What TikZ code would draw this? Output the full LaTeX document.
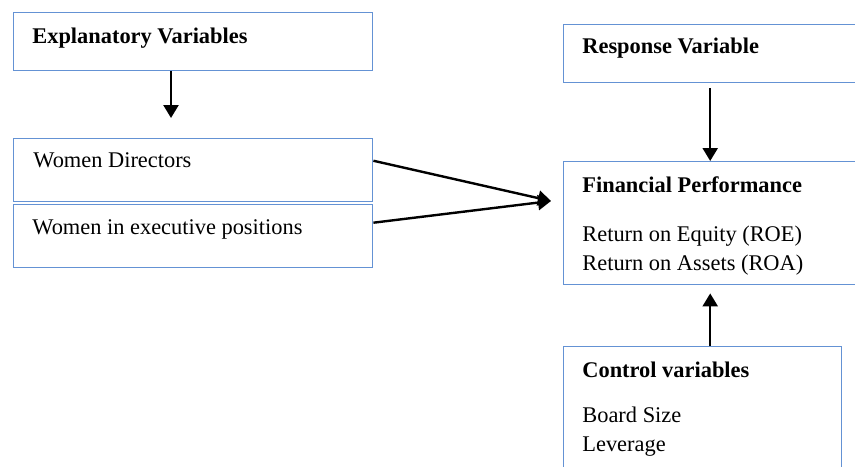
\documentclass[tikz,border=0pt]{standalone}
\usepackage{fontspec}
\setmainfont{Liberation Serif}
\usetikzlibrary{arrows.meta}
\definecolor{boxblue}{RGB}{100,146,212}
\begin{document}
\begin{tikzpicture}[x=0.5pt,y=-0.5pt,
 box/.style={draw=boxblue,line width=0.7pt,anchor=north west,inner sep=0pt},
 txt/.style={anchor=base west,inner sep=0pt,font=\fontsize{11.2pt}{13pt}\selectfont},
 hd/.style={txt,font=\fontsize{11.2pt}{13pt}\selectfont\bfseries},
 arr/.style={line width=1.2pt,-{Triangle[length=6.5pt,width=7.5pt]}}]
\useasboundingbox (0,0) rectangle (855,466);
\clip (0,0) rectangle (855,466);
% left column
\node[box,minimum width=179.5pt,minimum height=29pt] (expl) at (13,12) {};
\node[box,minimum width=179.5pt,minimum height=31.25pt] (wdir) at (13,138) {};
\node[box,minimum width=179.5pt,minimum height=31.5pt] (wexe) at (13,204) {};
\node[hd] (explt) at (32,43) {Explanatory Variables};
\node[txt] (wdirt) at (33,167) {Women Directors};
\node[txt] (wexet) at (32,234) {Women in executive positions};
% right column
\node[box,minimum width=146.5pt,minimum height=29pt] (resp) at (563,24) {};
\node[box,minimum width=146.5pt,minimum height=61.5pt] (fin) at (563,161) {};
\node[box,minimum width=139pt,minimum height=75pt] (ctrl) at (563,346) {};
\node[hd] (respt) at (582,53) {Response Variable};
\node[hd] (fint) at (582,192) {Financial Performance};
\node[txt] (roe) at (582,241) {Return on Equity (ROE)};
\node[txt] (roa) at (582,270) {Return on Assets (ROA)};
\node[hd] (ctrlt) at (582,377) {Control variables};
\node[txt] (bsize) at (582,422) {Board Size};
\node[txt] (lev) at (582,451) {Leverage};
% arrows
\coordinate (e1) at (171,118);
\coordinate (m) at (551,201);
\draw[arr] (expl.south -| e1) -- (e1);
\draw[arr] ([yshift=4.6pt]wdir.east) -- (m);
\draw[arr] ([yshift=6.75pt]wexe.east) -- (m);
\draw[arr] ([yshift=-2.5pt]resp.south) -- (fin.north);
\draw[arr] (ctrl.north -| fin.north) -- ([yshift=-4pt]fin.south);
\end{tikzpicture}
\end{document}
